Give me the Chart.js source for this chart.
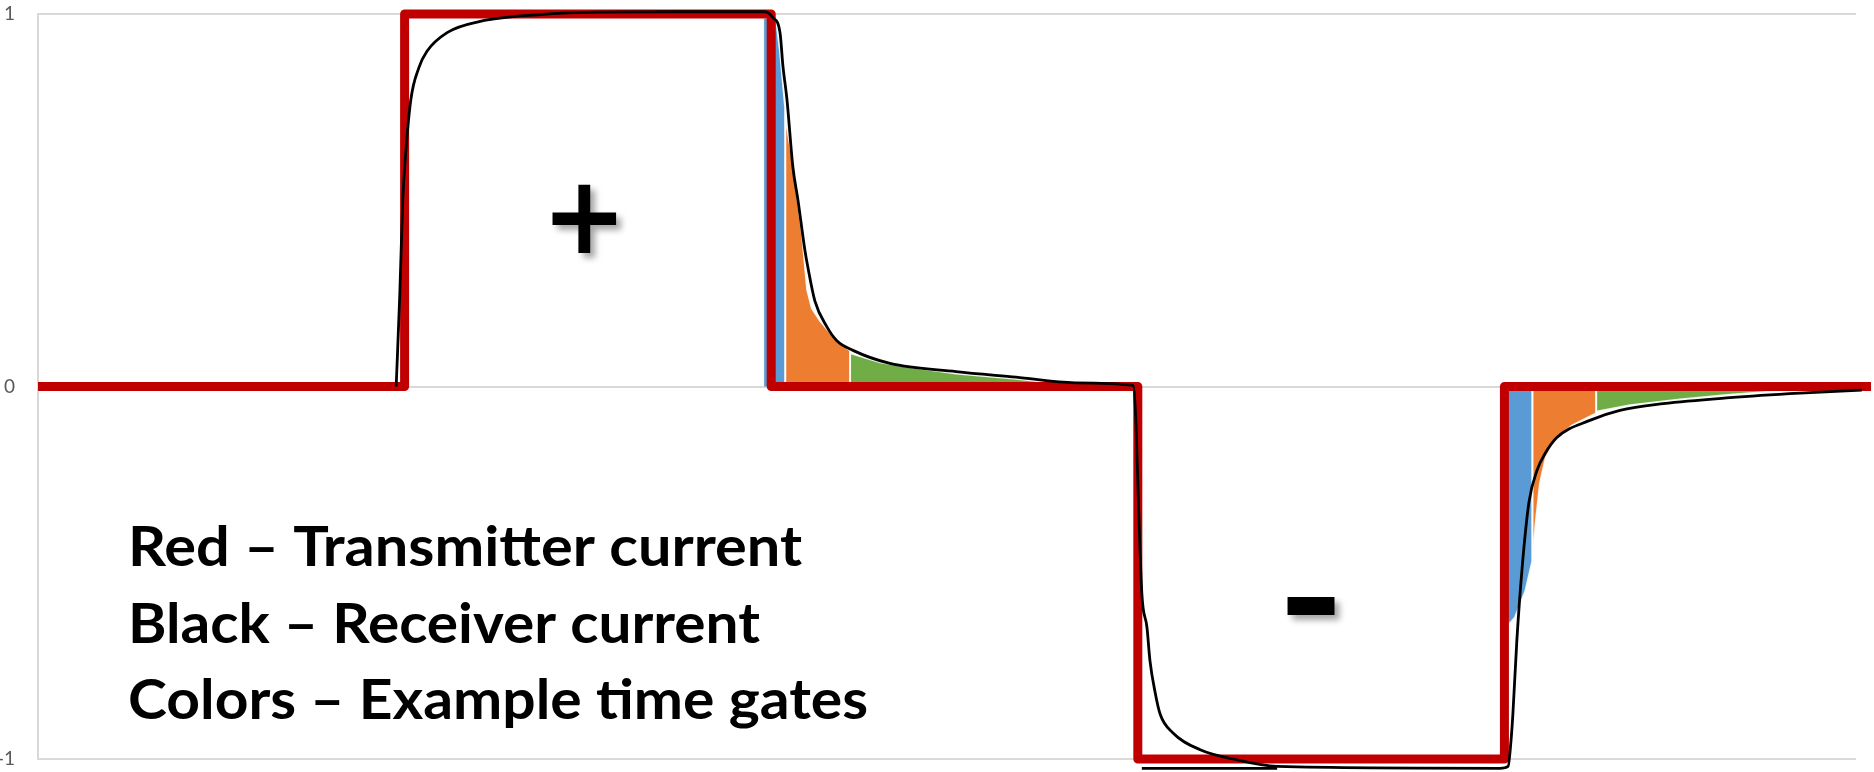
<!DOCTYPE html>
<html>
<head>
<meta charset="utf-8">
<script src="https://cdn.jsdelivr.net/npm/chart.js@4/dist/chart.umd.min.js"></script>
<style>
  html, body { margin: 0; padding: 0; background: #fff; }
  #wrap { width: 1874px; height: 772px; position: relative; }
</style>
</head>
<body>
<div id="wrap"><canvas id="grafico" width="1874" height="772"></canvas></div>
<script>
// y axis ticks
const yTicks = [-1, 0, 1];

// transmitter current (red square wave)
const txX = [0, 1, 1, 2, 2, 3, 3, 4, 4, 5];
const txY = [0, 0, 1, 1, 0, 0, -1, -1, 0, 0];

// receiver current (black)
const rxX = [0.977, 0.987, 0.995, 1.001, 1.017, 1.039, 1.061, 1.116, 1.206, 1.364, 1.533, 1.806, 1.983,
  2.005, 2.024, 2.032, 2.043, 2.059, 2.073, 2.092, 2.100, 2.119, 2.152, 2.179, 2.223, 2.324, 2.504, 2.668, 2.829, 2.987,
  2.995, 3.001, 3.011, 3.025, 3.033, 3.047, 3.061, 3.096, 3.170, 3.260, 3.380, 3.988,
  4.010, 4.018, 4.023, 4.034, 4.048, 4.067, 4.089, 4.111, 4.143, 4.233, 4.315, 4.433, 4.615, 4.806, 4.975];
const rxY = [0, 0.25, 0.5, 0.6, 0.77, 0.856, 0.9, 0.95, 0.98, 0.998, 1.005, 1.006, 1.006,
  0.99, 0.95, 0.86, 0.77, 0.59, 0.5, 0.365, 0.32, 0.23, 0.16, 0.123, 0.097, 0.062, 0.04, 0.025, 0.01, 0.003,
  -0.1, -0.29, -0.556, -0.647, -0.735, -0.82, -0.88, -0.93, -0.975, -1.0, -1.02, -1.025,
  -1.02, -0.95, -0.88, -0.68, -0.49, -0.31, -0.225, -0.18, -0.137, -0.091, -0.064, -0.046, -0.03, -0.018, -0.01];
// short flat piece under the negative pulse
const rxBaseX = [3.011, 3.380];
const rxBaseY = [-1.025, -1.025];

// time gates after the positive pulse
const posBlueX = [1.978, 2.013, 2.024, 2.038];
const posBlueY = [0.99, 0.99, 0.9, 0.75];
const posOrangeX = [2.038, 2.059, 2.084, 2.098, 2.111, 2.133, 2.179, 2.215];
const posOrangeY = [0.73, 0.6, 0.41, 0.26, 0.21, 0.177, 0.123, 0.097];
const posGreenX = [2.215, 2.297, 2.373, 2.504, 2.668, 2.766, 2.829];
const posGreenY = [0.09, 0.065, 0.053, 0.035, 0.021, 0.01, 0.0];

// time gates after the negative pulse
const negBlueX = [4.004, 4.012, 4.029, 4.057, 4.076];
const negBlueY = [-0.6, -0.64, -0.62, -0.55, -0.47];
const negOrangeX = [4.076, 4.086, 4.097, 4.113, 4.141, 4.184, 4.250];
const negOrangeY = [-0.47, -0.36, -0.26, -0.19, -0.14, -0.105, -0.072];
const negGreenX = [4.250, 4.343, 4.479, 4.615, 4.752, 4.806];
const negGreenY = [-0.068, -0.05, -0.035, -0.022, -0.012, -0.005];

const notas = ['Red \u2013 Transmitter current', 'Black \u2013 Receiver current', 'Colors \u2013 Example time gates'];

const COR_AZUL = '#5B9BD5';
const COR_LARANJA = '#ED7D31';
const COR_VERDE = '#70AD47';

function pontos(xs, ys) {
  return xs.map((x, i) => ({ x: x, y: ys[i] }));
}

// gate area closed down to zero at both ends so the separators get stroked
function pontosPortao(xs, ys) {
  const p = pontos(xs, ys);
  p.unshift({ x: xs[0], y: 0 });
  p.push({ x: xs[xs.length - 1], y: 0 });
  return p;
}

function portao(xs, ys, cor) {
  return {
    data: pontosPortao(xs, ys),
    backgroundColor: cor,
    borderColor: 'rgba(255,255,255,0.9)',
    borderWidth: 2,
    fill: 'origin',
    tension: 0,
    pointRadius: 0,
    order: 3
  };
}

// fits a glyph into a pixel box, with a soft shadow
function desenharSimbolo(ctx, txt, x0, y0, x1, y1) {
  ctx.save();
  ctx.font = 'bold 100px "DejaVu Sans"';
  ctx.textAlign = 'left';
  ctx.textBaseline = 'alphabetic';
  const m = ctx.measureText(txt);
  const l = -m.actualBoundingBoxLeft, r = m.actualBoundingBoxRight;
  const t = -m.actualBoundingBoxAscent, b = m.actualBoundingBoxDescent;
  ctx.shadowColor = 'rgba(0,0,0,0.35)';
  ctx.shadowBlur = 6;
  ctx.shadowOffsetX = 5;
  ctx.shadowOffsetY = 5;
  ctx.translate(x0, y0);
  ctx.scale((x1 - x0) / (r - l), (y1 - y0) / (b - t));
  ctx.fillStyle = '#000';
  ctx.fillText(txt, -l, -t);
  ctx.restore();
}

const pluginTextos = {
  id: 'textos',
  afterDraw(chart) {
    const ctx = chart.ctx;
    // notes at bottom left
    const bases = [566, 643, 719];
    const larguras = [674, 632, 740];
    ctx.save();
    ctx.font = 'bold 56px Lato, "Open Sans", sans-serif';
    ctx.fillStyle = '#000';
    ctx.textBaseline = 'alphabetic';
    ctx.textAlign = 'left';
    notas.forEach((txt, i) => {
      const w = ctx.measureText(txt).width;
      ctx.save();
      ctx.translate(128, bases[i]);
      ctx.scale(larguras[i] / w, 1);
      ctx.fillText(txt, 0, 0);
      ctx.restore();
    });
    ctx.restore();

    desenharSimbolo(ctx, '+', 552, 185, 617, 253);
    desenharSimbolo(ctx, '-', 1287, 595, 1336, 614);
  }
};

const ctx = document.getElementById('grafico').getContext('2d');
new Chart(ctx, {
  type: 'line',
  data: {
    datasets: [
      {
        data: pontos(rxX, rxY),
        borderColor: '#000',
        borderWidth: 2.8,
        cubicInterpolationMode: 'monotone',
        pointRadius: 0,
        fill: false,
        clip: false,
        order: 1
      },
      {
        data: pontos(rxBaseX, rxBaseY),
        borderColor: '#000',
        borderWidth: 2.8,
        pointRadius: 0,
        fill: false,
        clip: false,
        order: 1
      },
      {
        data: pontos(txX, txY),
        borderColor: '#C00000',
        borderWidth: 9,
        borderJoinStyle: 'round',
        tension: 0,
        pointRadius: 0,
        fill: false,
        clip: false,
        order: 2
      },
      portao(posBlueX, posBlueY, COR_AZUL),
      portao(posOrangeX, posOrangeY, COR_LARANJA),
      portao(posGreenX, posGreenY, COR_VERDE),
      portao(negBlueX, negBlueY, COR_AZUL),
      portao(negOrangeX, negOrangeY, COR_LARANJA),
      portao(negGreenX, negGreenY, COR_VERDE)
    ]
  },
  options: {
    responsive: false,
    animation: false,
    events: [],
    layout: { padding: { top: 14, bottom: 13, right: 18, left: 0 } },
    plugins: {
      legend: { display: false },
      tooltip: { enabled: false }
    },
    scales: {
      x: {
        type: 'linear',
        min: 0,
        max: 4.959,
        display: false
      },
      y: {
        type: 'linear',
        min: -1,
        max: 1,
        afterFit: (s) => { s.width = 38; },
        afterBuildTicks: (s) => { s.ticks = yTicks.map(v => ({ value: v })); },
        border: { display: true, color: '#d9d9d9', width: 2 },
        // invisible tick marks push the labels away from the axis
        grid: { color: '#d9d9d9', lineWidth: 2, drawTicks: true, tickLength: 23, tickColor: 'rgba(0,0,0,0)' },
        ticks: {
          padding: 0,
          color: '#595959',
          font: { family: 'Lato, "Open Sans", sans-serif', size: 19 }
        }
      }
    }
  },
  plugins: [pluginTextos]
});
</script>
</body>
</html>
